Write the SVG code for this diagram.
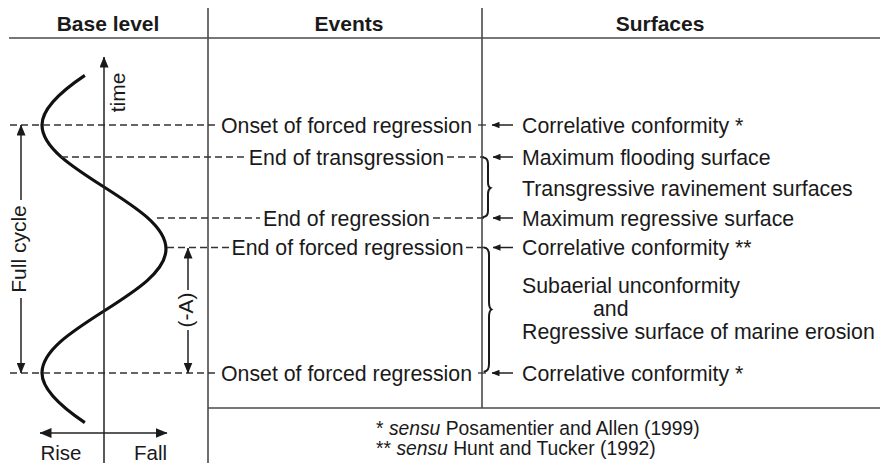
<svg xmlns="http://www.w3.org/2000/svg" width="880" height="463" viewBox="0 0 880 463">
  <style>
    text { font-family: "Liberation Sans", Arial, sans-serif; fill: #1a1a1a; }
    .hd { font-size: 21px; font-weight: bold; text-anchor: middle; }
    .ev { font-size: 21.3px; text-anchor: middle; }
    .sf { font-size: 21.3px; }
    .lb { font-size: 21px; }
    .fn { font-size: 19.3px; }
    .grid { stroke: #4a4a4a; stroke-width: 1.6; fill: none; }
    .dash { stroke: #333; stroke-width: 1.3; stroke-dasharray: 7 4; fill: none; }
    .ax { stroke: #222; stroke-width: 1.5; fill: none; }
    .brace { stroke: #1a1a1a; stroke-width: 2; fill: none; stroke-linecap: round; }
  </style>
  <defs>
    <marker id="big" markerUnits="userSpaceOnUse" markerWidth="11" markerHeight="9" refX="10.5" refY="4.5" orient="auto-start-reverse" viewBox="0 0 11 9">
      <path d="M0,0 L11,4.5 L0,9 z" fill="#1a1a1a"/>
    </marker>
    <marker id="rf" markerUnits="userSpaceOnUse" markerWidth="12" markerHeight="10" refX="11.5" refY="5" orient="auto-start-reverse" viewBox="0 0 12 10">
      <path d="M0,0 L12,5 L0,10 z" fill="#1a1a1a"/>
    </marker>
    <marker id="sm" markerUnits="userSpaceOnUse" markerWidth="8" markerHeight="6.5" refX="7.5" refY="3.25" orient="auto" viewBox="0 0 8 6.5">
      <path d="M0,0 L8,3.25 L0,6.5 z" fill="#1a1a1a"/>
    </marker>
  </defs>

  <g id="frame">
    <line class="grid" x1="9" y1="38" x2="880" y2="38"/>
    <line class="grid" x1="208" y1="8" x2="208" y2="463"/>
    <line class="grid" x1="482" y1="8" x2="482" y2="408"/>
    <line class="grid" x1="208" y1="408" x2="880" y2="408"/>
  </g>

  <g id="headers">
    <text class="hd" x="108" y="31">Base level</text>
    <text class="hd" x="349" y="31">Events</text>
    <text class="hd" x="660" y="31">Surfaces</text>
  </g>

  <g id="base-level">
    <path d="M84.84,75.4 C60.14,91.93 42,108.47 42,125 C42,147.44 72.24,166.78 104,187 C135.76,207.22 166,226.56 166,249 C166,271.44 135.76,290.78 104,311 C72.24,331.22 42,350.56 42,373 C42,389.53 60.14,406.07 84.84,422.6" fill="none" stroke="#111" stroke-width="3.2" stroke-linecap="butt"/>
    <text class="lb" transform="translate(125,92.5) rotate(-90)" text-anchor="middle">time</text>
    <text class="lb" transform="translate(26,249) rotate(-90)" text-anchor="middle">Full cycle</text>
    <text class="lb" transform="translate(193,310) rotate(-90)" text-anchor="middle">(-A)</text>
    <text class="lb" x="40.5" y="460" style="font-size:20.5px">Rise</text>
    <text class="lb" x="167" y="460" text-anchor="end" style="font-size:20.5px">Fall</text>
  </g>

  <g id="events">
    <text class="ev" x="346.5" y="132.5">Onset of forced regression</text>
    <text class="ev" x="346.5" y="164.5">End of transgression</text>
    <text class="ev" x="346.5" y="225.5">End of regression</text>
    <text class="ev" x="347.5" y="255">End of forced regression</text>
    <text class="ev" x="346.5" y="380.5">Onset of forced regression</text>
  </g>

  <g id="surfaces">
    <text class="sf" x="522" y="132.5">Correlative conformity *</text>
    <text class="sf" x="522" y="164.5">Maximum flooding surface</text>
    <text class="sf" x="522" y="195.5">Transgressive ravinement surfaces</text>
    <text class="sf" x="522" y="225.5">Maximum regressive surface</text>
    <text class="sf" x="522" y="255">Correlative conformity **</text>
    <text class="sf" x="522" y="292.5">Subaerial unconformity</text>
    <text class="sf" x="593" y="315.5">and</text>
    <text class="sf" x="522" y="338.5">Regressive surface of marine erosion</text>
    <text class="sf" x="522" y="380.5">Correlative conformity *</text>
  </g>

  <g id="footnotes">
    <text class="fn" x="376" y="435">* <tspan font-style="italic">sensu</tspan> Posamentier and Allen (1999)</text>
    <text class="fn" x="376" y="455">** <tspan font-style="italic">sensu</tspan> Hunt and Tucker (1992)</text>
  </g>

  <g id="connectors">
    <line class="dash" x1="10" y1="125" x2="217" y2="125"/>
    <line class="dash" x1="478" y1="125" x2="486" y2="125" style="stroke-dasharray:none"/>
    <line class="dash" x1="61" y1="157" x2="246" y2="157"/>
    <line class="dash" x1="447" y1="157" x2="484" y2="157"/>
    <line class="dash" x1="157" y1="218" x2="260" y2="218"/>
    <line class="dash" x1="433" y1="218" x2="484" y2="218"/>
    <line class="dash" x1="167" y1="247.5" x2="229" y2="247.5"/>
    <line class="dash" x1="466" y1="247.5" x2="483" y2="247.5"/>
    <line class="dash" x1="10" y1="373" x2="217" y2="373"/>
    <line class="dash" x1="478" y1="373" x2="486" y2="373" style="stroke-dasharray:none"/>

    <line class="ax" x1="104" y1="463" x2="104" y2="57" marker-end="url(#big)"/>
    <line class="ax" x1="21" y1="200" x2="21" y2="125" marker-end="url(#big)"/>
    <line class="ax" x1="21" y1="298" x2="21" y2="373" marker-end="url(#big)"/>
    <line class="ax" x1="188" y1="290" x2="188" y2="248" marker-end="url(#big)"/>
    <line class="ax" x1="188" y1="330" x2="188" y2="373" marker-end="url(#big)"/>
    <line class="ax" x1="40" y1="433" x2="167" y2="433" marker-start="url(#rf)" marker-end="url(#rf)"/>

    <line class="ax" x1="513" y1="125" x2="492" y2="125" marker-end="url(#sm)"/>
    <line class="ax" x1="513" y1="157" x2="493" y2="157" marker-end="url(#sm)"/>
    <line class="ax" x1="513" y1="218" x2="493" y2="218" marker-end="url(#sm)"/>
    <line class="ax" x1="513" y1="247.5" x2="493" y2="247.5" marker-end="url(#sm)"/>
    <line class="ax" x1="513" y1="373" x2="492" y2="373" marker-end="url(#sm)"/>

    <path class="brace" d="M483.5,157.5 Q488,158 488,164 L488,182 Q488,187 490.5,188 Q488,189.5 488,194 L488,211 Q488,216.5 483.5,217"/>
    <path class="brace" d="M484,247.5 Q489,248 489,255 L489,302 Q489,308 491.5,309.5 Q489,311 489,317 L489,364 Q489,371 484.5,371.5"/>
  </g>
</svg>
